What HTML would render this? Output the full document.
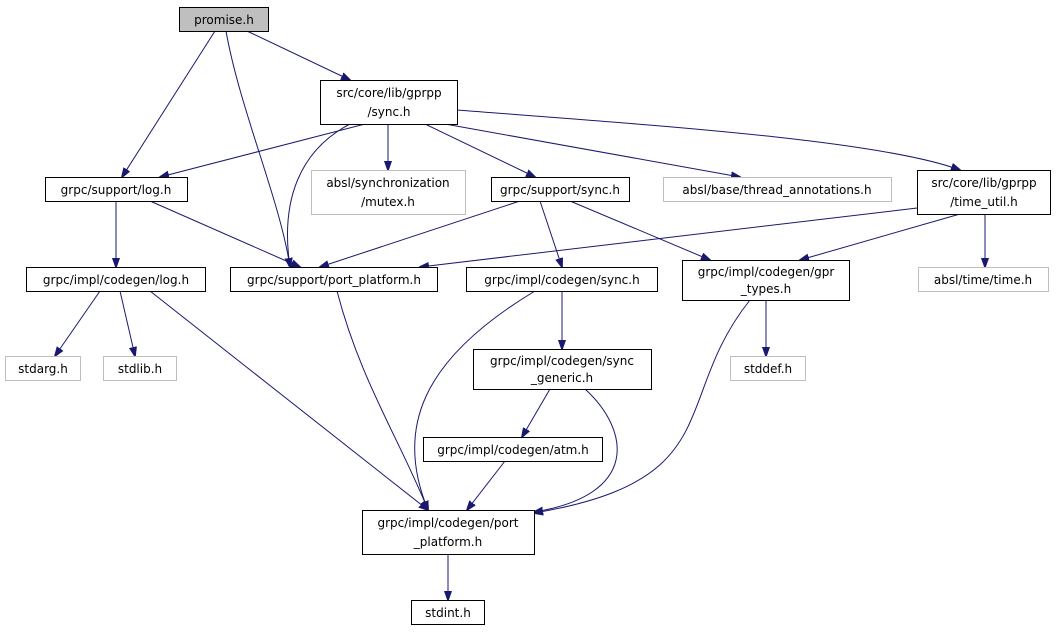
<!DOCTYPE html>
<html><head><meta charset="utf-8"><style>
html,body{margin:0;padding:0;background:#fff;}
svg{display:block;}
text{font-family:"DejaVu Sans","Liberation Sans",sans-serif;font-size:12px;fill:#000;}
.b{fill:#fff;stroke:#000;stroke-width:1;}
.g{fill:#fff;stroke:#bfbfbf;stroke-width:1;}
.e{fill:none;stroke:#191970;stroke-width:1;marker-end:url(#a);}
</style></head><body>
<svg width="1057" height="633" viewBox="0 0 1057 633" xmlns="http://www.w3.org/2000/svg">
<defs><marker id="a" viewBox="0 0 10 10" refX="9" refY="5" markerWidth="10" markerHeight="10" markerUnits="userSpaceOnUse" orient="auto"><path d="M0,1.5 L10,5 L0,8.5 z" fill="#191970" stroke="#191970"/></marker></defs>
<!-- edges -->
<path class="e" d="M247,31 L350,80"/>
<path class="e" d="M215,31 L122,177"/>
<path class="e" d="M226,31 C240,110 280,200 290,267"/>
<path class="e" d="M365,124 L160,177"/>
<path class="e" d="M350,124 C300,150 280,200 290,267"/>
<path class="e" d="M388,124 L388,170"/>
<path class="e" d="M425,124 L535,177"/>
<path class="e" d="M445,124 L740,177"/>
<path class="e" d="M457,110 C650,125 880,140 960,170"/>
<path class="e" d="M116,201 L116,267"/>
<path class="e" d="M150,201 L300,267"/>
<path class="e" d="M520,201 L320,267"/>
<path class="e" d="M540,201 L562,267"/>
<path class="e" d="M570,201 L710,260"/>
<path class="e" d="M917,208 L420,267"/>
<path class="e" d="M960,214 L800,260"/>
<path class="e" d="M985,214 L985,267"/>
<path class="e" d="M100,291 L55,356"/>
<path class="e" d="M120,291 L135,356"/>
<path class="e" d="M150,291 L428,510"/>
<path class="e" d="M337,291 C360,380 400,440 428,510"/>
<path class="e" d="M535,291 C420,360 395,430 428,510"/>
<path class="e" d="M562,291 L562,349"/>
<path class="e" d="M766,300 L766,356"/>
<path class="e" d="M750,300 C670,400 730,480 534,513"/>
<path class="e" d="M585,389 C630,430 640,495 534,512"/>
<path class="e" d="M550,389 L522,437"/>
<path class="e" d="M505,461 L467,510"/>
<path class="e" d="M448,554 L448,600"/>
<!-- nodes -->
<rect x="179.5" y="7.5" width="89" height="24" fill="#bfbfbf" stroke="#000"/>
<text x="224" y="24" text-anchor="middle">promise.h</text>
<rect class="b" x="320.5" y="80.5" width="137" height="44"/>
<text x="389" y="97" text-anchor="middle">src/core/lib/gprpp</text>
<text x="389" y="116" text-anchor="middle">/sync.h</text>
<rect class="b" x="45.5" y="177.5" width="142" height="24"/>
<text x="116" y="194" text-anchor="middle">grpc/support/log.h</text>
<rect class="g" x="311.5" y="170.5" width="154" height="44"/>
<text x="388" y="187" text-anchor="middle" fill="#000">absl/synchronization</text>
<text x="388" y="206" text-anchor="middle">/mutex.h</text>
<rect class="b" x="491.5" y="177.5" width="138" height="24"/>
<text x="560" y="194" text-anchor="middle">grpc/support/sync.h</text>
<rect class="g" x="663.5" y="177.5" width="228" height="24"/>
<text x="777" y="194" text-anchor="middle">absl/base/thread_annotations.h</text>
<rect class="b" x="917.5" y="170.5" width="133" height="44"/>
<text x="984" y="187" text-anchor="middle">src/core/lib/gprpp</text>
<text x="984" y="206" text-anchor="middle">/time_util.h</text>
<rect class="b" x="26.5" y="267.5" width="179" height="24"/>
<text x="116" y="284" text-anchor="middle">grpc/impl/codegen/log.h</text>
<rect class="b" x="230.5" y="267.5" width="207" height="24"/>
<text x="334" y="284" text-anchor="middle">grpc/support/port_platform.h</text>
<rect class="b" x="466.5" y="267.5" width="191" height="24"/>
<text x="562" y="284" text-anchor="middle">grpc/impl/codegen/sync.h</text>
<rect class="b" x="682.5" y="260.5" width="167" height="40"/>
<text x="766" y="276" text-anchor="middle">grpc/impl/codegen/gpr</text>
<text x="766" y="293" text-anchor="middle">_types.h</text>
<rect class="g" x="918.5" y="267.5" width="130" height="24"/>
<text x="983" y="284" text-anchor="middle">absl/time/time.h</text>
<rect class="g" x="5.5" y="356.5" width="75" height="24"/>
<text x="43" y="373" text-anchor="middle">stdarg.h</text>
<rect class="g" x="103.5" y="356.5" width="73" height="24"/>
<text x="140" y="373" text-anchor="middle">stdlib.h</text>
<rect class="b" x="473.5" y="349.5" width="178" height="40"/>
<text x="562" y="365" text-anchor="middle">grpc/impl/codegen/sync</text>
<text x="562" y="382" text-anchor="middle">_generic.h</text>
<rect class="g" x="730.5" y="356.5" width="75" height="24"/>
<text x="768" y="373" text-anchor="middle">stddef.h</text>
<rect class="b" x="423.5" y="437.5" width="179" height="24"/>
<text x="513" y="454" text-anchor="middle">grpc/impl/codegen/atm.h</text>
<rect class="b" x="362.5" y="510.5" width="172" height="44"/>
<text x="448" y="527" text-anchor="middle">grpc/impl/codegen/port</text>
<text x="448" y="546" text-anchor="middle">_platform.h</text>
<rect class="b" x="411.5" y="600.5" width="73" height="24"/>
<text x="448" y="617" text-anchor="middle">stdint.h</text>
</svg>
</body></html>
